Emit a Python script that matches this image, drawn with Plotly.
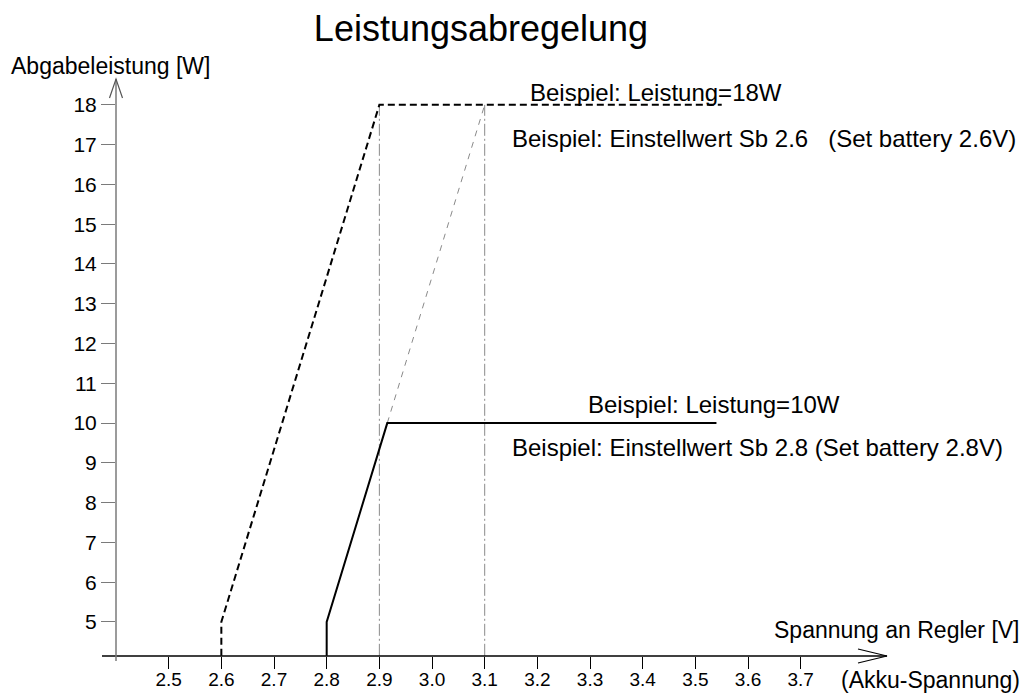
import plotly.graph_objects as go

# ---- data ----
x_ticks = [2.5, 2.6, 2.7, 2.8, 2.9, 3.0, 3.1, 3.2, 3.3, 3.4, 3.5, 3.6, 3.7]
y_ticks = [5, 6, 7, 8, 9, 10, 11, 12, 13, 14, 15, 16, 17, 18]

x_18w = [2.6, 2.6, 2.9, 3.55]
y_18w = [4.15, 5, 18, 18]

x_10w = [2.8, 2.8, 2.915, 3.54]
y_10w = [4.15, 5, 10, 10]

x_guide = [2.915, 3.1]
y_guide = [10, 18]

x_marks = [2.9, 3.1]
y_marks = [4.15, 18]

X_RANGE = [2.4, 3.86]
Y_RANGE = [4.145, 18.65]

FONT = "Liberation Sans, Arial, sans-serif"

# plot area in pixels
L, R, T, B = 116, 885, 79, 656
W, H = 1027, 696


def px(p):
    return (p - L) / (R - L)


def py(p):
    return (B - p) / (B - T)


fig = go.Figure()

for xv in x_marks:
    fig.add_trace(go.Scatter(
        x=[xv, xv], y=y_marks, mode="lines",
        line=dict(color="#8a8a8a", width=1, dash="12px,3px,2px,3px"),
        showlegend=False, hoverinfo="skip"))

fig.add_trace(go.Scatter(
    x=x_guide, y=y_guide, mode="lines",
    line=dict(color="#8a8a8a", width=1, dash="6px,6px"),
    showlegend=False, hoverinfo="skip"))

fig.add_trace(go.Scatter(
    x=x_18w, y=y_18w, mode="lines",
    line=dict(color="black", width=2, dash="7px,4px"),
    showlegend=False))

fig.add_trace(go.Scatter(
    x=x_10w, y=y_10w, mode="lines",
    line=dict(color="black", width=2),
    showlegend=False))

shapes = [
    # x axis line (extends slightly left of y axis)
    dict(type="line", xref="paper", yref="paper", x0=px(102), x1=px(887),
         y0=0, y1=0, line=dict(color="black", width=1.5)),
    # x axis arrowhead
    dict(type="path", xref="paper", yref="paper",
         path=f"M {px(858)},{py(649)} L {px(887)},{py(656)} L {px(858)},{py(663)}",
         line=dict(color="black", width=1.2)),
    # y axis line (extends slightly below x axis)
    dict(type="line", xref="paper", yref="paper", x0=0, x1=0,
         y0=py(661), y1=1, line=dict(color="#7a7a7a", width=1.5)),
    # y axis arrowhead
    dict(type="path", xref="paper", yref="paper",
         path=f"M {px(109.5)},{py(98)} L {px(116)},{py(79)} L {px(122.5)},{py(98)}",
         line=dict(color="#555555", width=1.2)),
]

annotations = [
    dict(text="Abgabeleistung [W]", xref="paper", yref="paper",
         x=px(9), y=py(66), xanchor="left", yanchor="middle", showarrow=False,
         font=dict(size=23, color="black", family=FONT)),
    dict(text="Beispiel: Leistung=18W", xref="paper", yref="paper",
         x=px(528), y=py(92), xanchor="left", yanchor="middle", showarrow=False,
         font=dict(size=24, color="black", family=FONT)),
    dict(text="Beispiel: Einstellwert Sb 2.6\u00a0\u00a0\u00a0(Set battery 2.6V)",
         xref="paper", yref="paper",
         x=px(510), y=py(138), xanchor="left", yanchor="middle", showarrow=False,
         font=dict(size=24, color="black", family=FONT)),
    dict(text="Beispiel: Leistung=10W", xref="paper", yref="paper",
         x=px(586), y=py(404), xanchor="left", yanchor="middle", showarrow=False,
         font=dict(size=24, color="black", family=FONT)),
    dict(text="Beispiel: Einstellwert Sb 2.8 (Set battery 2.8V)",
         xref="paper", yref="paper",
         x=px(510), y=py(448), xanchor="left", yanchor="middle", showarrow=False,
         font=dict(size=24, color="black", family=FONT)),
    dict(text="Spannung an Regler [V]", xref="paper", yref="paper",
         x=px(1022), y=py(630), xanchor="right", yanchor="middle", showarrow=False,
         font=dict(size=23, color="black", family=FONT)),
    dict(text="(Akku-Spannung)", xref="paper", yref="paper",
         x=px(1022), y=py(680), xanchor="right", yanchor="middle", showarrow=False,
         font=dict(size=23, color="black", family=FONT)),
]

fig.update_layout(
    width=W, height=H,
    margin=dict(l=L, r=W - R, t=T, b=H - B, pad=0, autoexpand=False),
    paper_bgcolor="white", plot_bgcolor="white",
    title=dict(text="Leistungsabregelung", xref="container", yref="container",
               x=481 / W, y=1 - 28 / H, xanchor="center", yanchor="middle",
               font=dict(size=36, color="black", family=FONT)),
    xaxis=dict(range=X_RANGE, tickvals=x_ticks, tickformat=".1f",
               ticks="outside", ticklen=12, tickwidth=1.2, tickcolor="black",
               ticklabelstandoff=-6,
               showline=False, showgrid=False, zeroline=False, automargin=False,
               tickfont=dict(size=19, color="black", family=FONT)),
    yaxis=dict(range=Y_RANGE, tickvals=y_ticks,
               ticks="outside", ticklen=14, tickwidth=1.2, tickcolor="#7a7a7a",
               showline=False, showgrid=False, zeroline=False, automargin=False,
               tickfont=dict(size=21, color="black", family=FONT)),
    shapes=shapes,
    annotations=annotations,
    showlegend=False,
)

fig.write_html(
    "out.html",
    config={"displayModeBar": False},
    post_script=(
        "document.documentElement.style.margin='0';"
        "document.body.style.margin='0';"
        "document.body.style.padding='0';"
        "document.body.style.overflow='hidden';"
    ),
)
